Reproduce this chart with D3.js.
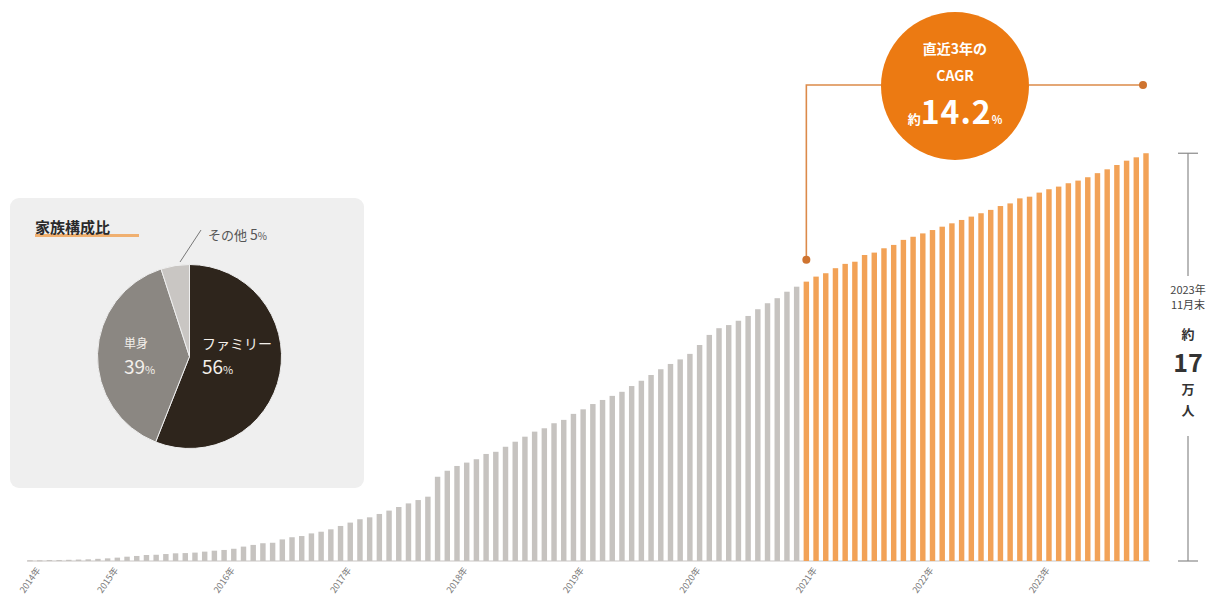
<!DOCTYPE html>
<html><head><meta charset="utf-8">
<script src="https://cdn.jsdelivr.net/npm/d3@7"></script>
<style>
html,body{margin:0;padding:0;background:#fff;}
svg{display:block;font-family:"Noto Sans CJK JP","Noto Sans",sans-serif;}
</style></head>
<body><svg id="c" width="1213" height="609"></svg>
<script>
// ---- data (thousand people, monthly) ----
const startMonth = "2014-05";
const grayValues = [0.3,0.3,0.4,0.4,0.5,0.6,0.7,0.9,1.1,1.4,
 1.8,2.1,2.5,2.6,2.9,3.2,3.3,3.5,3.9,4.3,
 4.6,5.1,6.0,6.7,7.4,7.6,9.0,9.9,10.4,11.5,
 12.2,13.2,14.6,16.0,17.4,18.2,19.6,21.0,22.5,24.0,
 25.4,26.8,35.1,37.6,39.6,41.0,42.4,44.6,45.5,47.6,
 49.7,51.8,53.9,55.3,57.4,58.8,61.3,63.2,65.4,67.1,
 68.8,70.5,72.9,75.1,77.5,79.9,82.1,84.0,86.3,90.0,
 94.2,97.0,98.3,100.1,102.1,104.9,107.4,109.5,112.2,114.3];
const orangeValues = [116.4,118.5,119.9,122.0,123.8,124.7,127.5,128.5,130.3,131.7,
 133.8,135.1,136.5,137.9,139.3,140.7,142.1,143.5,144.9,146.3,
 147.9,149.0,151.1,151.8,153.5,154.9,156.0,157.4,158.5,159.9,
 161.6,163.2,165.0,166.8,168.2,169.9];
const tickYears = ["2014年","2015年","2016年","2017年","2018年","2019年","2020年","2021年","2022年","2023年"];
const pieLabels = ["ファミリー","単身","その他"];
const pieValues = [56,39,5];
const pieTitle = "家族構成比";
const cagrLines = ["直近3年の","CAGR"];
const cagrValue = "14.2";
const totalLabel = ["2023年","11月末","約","17","万","人"];

// ---- build ----
const values = grayValues.concat(orangeValues);
const parse = d3.timeParse("%Y-%m");
const months = d3.range(values.length).map(i => d3.timeMonth.offset(parse(startMonth), i));
const data = values.map((v,i)=>({i, date: months[i], v, orange: i >= grayValues.length}));

const svg = d3.select("#c");
const x = d3.scaleBand().domain(d3.range(values.length)).range([25.15, 1150.85]).paddingInner(0.44).paddingOuter(0.22);
const y = d3.scaleLinear().domain([0,170]).range([561,153]);

// baseline
svg.append("line").attr("x1",27).attr("x2",1150).attr("y1",y(0)).attr("y2",y(0))
  .attr("stroke","#c9c6c3").attr("stroke-width",1.2);

svg.append("g").selectAll("rect").data(data).join("rect")
  .attr("x", d => x(d.i)).attr("width", x.bandwidth())
  .attr("y", d => y(d.v)).attr("height", d => Math.max(1, y(0) - y(d.v)))
  .attr("fill", d => d.orange ? "#f2a257" : "#c6c3c0");

// year ticks
const tickIdx = tickYears.map((t,k) => k === 0 ? 0 : data.findIndex(d => d.date.getFullYear() === +t.slice(0,4) && d.date.getMonth() === 0));
svg.append("g").selectAll("text").data(tickYears).join("text")
  .attr("transform", (t,k) => `translate(${x(tickIdx[k]) + x.bandwidth()/2 + 11},570) rotate(-55)`)
  .attr("text-anchor","end").attr("font-size",9).attr("fill","#7a7a7a")
  .text(t => t);

// ---- right bracket ----
const bx = 1188, bTop = y(d3.max(values)), bBot = y(0);
const br = svg.append("g").attr("stroke","#8a8a8a").attr("stroke-width",1.2);
br.append("line").attr("x1",bx-10).attr("x2",bx+10).attr("y1",bTop).attr("y2",bTop);
br.append("line").attr("x1",bx).attr("x2",bx).attr("y1",bTop).attr("y2",276);
br.append("line").attr("x1",bx).attr("x2",bx).attr("y1",436).attr("y2",bBot);
br.append("line").attr("x1",bx-10).attr("x2",bx+10).attr("y1",bBot).attr("y2",bBot);
const tl = svg.append("g").attr("text-anchor","middle").attr("fill","#444");
tl.append("text").attr("x",bx).attr("y",294).attr("font-size",11).text(totalLabel[0]);
tl.append("text").attr("x",bx).attr("y",309).attr("font-size",11).text(totalLabel[1]);
tl.append("text").attr("x",bx).attr("y",339).attr("font-size",13).attr("font-weight",700).attr("fill","#333").text(totalLabel[2]);
tl.append("text").attr("x",bx).attr("y",372).attr("font-size",25).attr("font-weight",700).attr("fill","#333").text(totalLabel[3]);
tl.append("text").attr("x",bx).attr("y",394).attr("font-size",13).attr("font-weight",700).attr("fill","#333").text(totalLabel[4]);
tl.append("text").attr("x",bx).attr("y",415).attr("font-size",13).attr("font-weight",700).attr("fill","#333").text(totalLabel[5]);

// ---- CAGR annotation ----
const lx = x(grayValues.length) + x.bandwidth()/2;
const rx = 1143, ly = 85;
const ann = svg.append("g");
ann.append("path").attr("d", `M${lx},${y(orangeValues[0]) - 22}V${ly}H${rx}`)
  .attr("fill","none").attr("stroke","#dc8a4a").attr("stroke-width",1.6);
ann.append("circle").attr("cx",lx).attr("cy",y(orangeValues[0]) - 22).attr("r",4).attr("fill","#cf7430");
ann.append("circle").attr("cx",rx).attr("cy",ly).attr("r",4).attr("fill","#cf7430");
ann.append("circle").attr("cx",955).attr("cy",86).attr("r",74).attr("fill","#ec7a12");
ann.append("text").attr("x",955).attr("y",54).attr("text-anchor","middle").attr("font-size",14).attr("font-weight",700).attr("fill","#fff").text(cagrLines[0]);
ann.append("text").attr("x",955).attr("y",81).attr("text-anchor","middle").attr("font-size",14).attr("font-weight",700).attr("fill","#fff").text(cagrLines[1]);
const cv = ann.append("text").attr("x",955).attr("y",124).attr("text-anchor","middle").attr("fill","#fff").attr("font-weight",700);
cv.append("tspan").attr("font-size",13).text("約");
cv.append("tspan").attr("font-size",32).attr("letter-spacing",1).text(cagrValue);
cv.append("tspan").attr("font-size",11).text("%");

// ---- pie panel ----
const panel = svg.append("g");
panel.append("rect").attr("x",10).attr("y",198).attr("width",354).attr("height",290).attr("rx",9).attr("fill","#efefef");
panel.append("rect").attr("x",35).attr("y",234).attr("width",104).attr("height",3).attr("fill","#f0b070");
panel.append("text").attr("x",35).attr("y",233).attr("font-size",15).attr("font-weight",700).attr("fill","#2a2a2a").text(pieTitle);

const pcx = 189.5, pcy = 356.5, pr = 92;
const pieColors = ["#2e251c","#8b8782","#c9c6c3"];
const arcs = d3.pie().sort(null)(pieValues);
const arc = d3.arc().innerRadius(0).outerRadius(pr);
const pg = panel.append("g").attr("transform",`translate(${pcx},${pcy})`);
pg.selectAll("path").data(arcs).join("path").attr("d",arc)
  .attr("fill",(d,i)=>pieColors[i]).attr("stroke","#efefef").attr("stroke-width",1);

const pt = panel.append("g").attr("fill","#f3efea");
pt.append("text").attr("x",202).attr("y",349).attr("font-size",14).text(pieLabels[0]);
const t56 = pt.append("text").attr("x",202).attr("y",374);
t56.append("tspan").attr("font-size",19).text(pieValues[0]);
t56.append("tspan").attr("font-size",11).text("%");
pt.append("text").attr("x",124).attr("y",348).attr("font-size",12).text(pieLabels[1]);
const t39 = pt.append("text").attr("x",124).attr("y",374);
t39.append("tspan").attr("font-size",19).text(pieValues[1]);
t39.append("tspan").attr("font-size",11).text("%");
// その他 leader
panel.append("line").attr("x1",180).attr("y1",262).attr("x2",201).attr("y2",230).attr("stroke","#777").attr("stroke-width",1);
const to = panel.append("text").attr("x",208).attr("y",240).attr("fill","#555");
to.append("tspan").attr("font-size",13).text(pieLabels[2] + " ");
to.append("tspan").attr("font-size",14).text(pieValues[2]);
to.append("tspan").attr("font-size",10).text("%");
</script></body></html>
